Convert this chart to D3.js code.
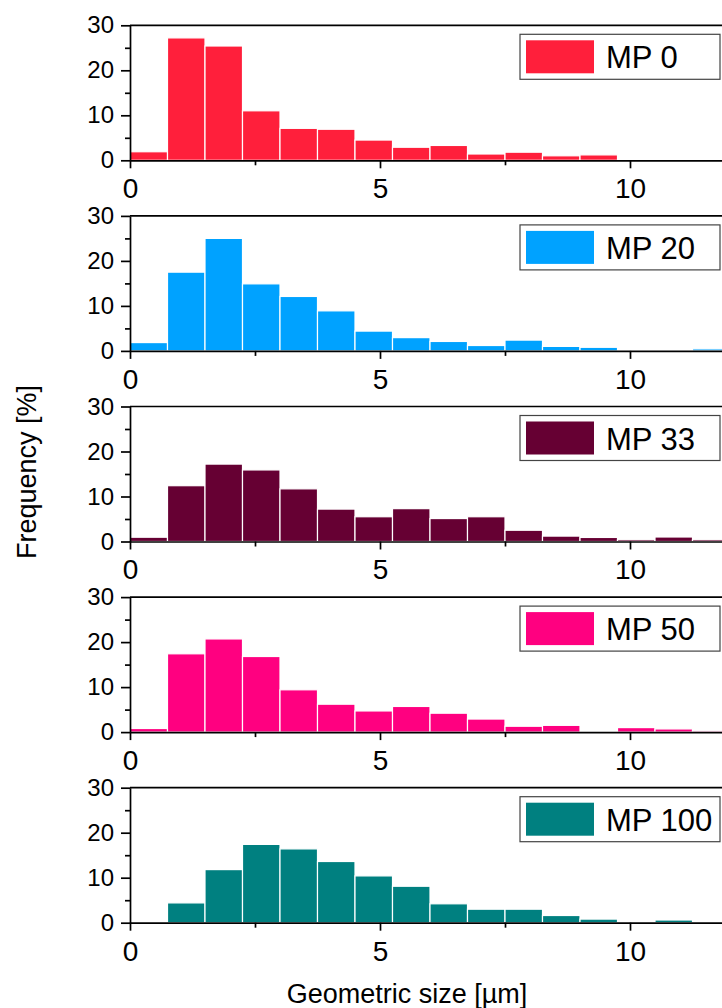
<!DOCTYPE html>
<html lang="en">
<head>
<meta charset="utf-8">
<title>Geometric size histograms</title>
<script src="https://d3js.org/d3.v7.min.js"></script>
<style>
  body { margin: 0; background: #fff; }
  svg { display: block; font-family: "Liberation Sans", Arial, sans-serif; }
</style>
</head>
<body>
<script>
// bin edges in µm (bin width 0.75)
var binEdges = [0, 0.75, 1.5, 2.25, 3, 3.75, 4.5, 5.25, 6, 6.75, 7.5, 8.25, 9, 9.75, 10.5, 11.25, 12];

var seriesNames = ["MP 0", "MP 20", "MP 33", "MP 50", "MP 100"];
var seriesColors = ["#ff1f3b", "#00a2ff", "#660033", "#ff0080", "#008080"];

// frequency [%] per bin
var mp0   = [1.9, 27.2, 25.4, 11.0, 7.1, 6.9, 4.5, 2.9, 3.3, 1.4, 1.8, 1.0, 1.2, 0, 0, 0];
var mp20  = [1.85, 17.5, 25.0, 14.9, 12.1, 8.9, 4.4, 2.95, 2.1, 1.2, 2.4, 1.0, 0.8, 0, 0, 0.45];
var mp33  = [0.95, 12.4, 17.2, 15.9, 11.7, 7.2, 5.5, 7.3, 5.1, 5.5, 2.5, 1.2, 0.9, 0.4, 1.0, 0.4];
var mp50  = [0.8, 17.4, 20.7, 16.8, 9.4, 6.2, 4.7, 5.7, 4.2, 2.9, 1.3, 1.5, 0, 1.0, 0.7, 0.3];
var mp100 = [0, 4.4, 11.8, 17.4, 16.4, 13.6, 10.4, 8.1, 4.2, 3.0, 3.0, 1.6, 0.8, 0, 0.6, 0];
var seriesValues = [mp0, mp20, mp33, mp50, mp100];

var xMajor = [0, 5, 10];
var xMinor = [2.5, 7.5];
var yMajor = [0, 10, 20, 30];
var yMinor = [5, 15, 25];

var W = 722, H = 1008;
var left = 130;
var panelTop0 = 25.3, panelStep = 190.6, panelH = 135;

var svg = d3.select("body").append("svg")
    .attr("width", W)
    .attr("height", H);

var x = d3.scaleLinear().domain([0, 12]).range([left, left + 12 * 50]);

seriesValues.forEach(function(vals, i) {
    var top = panelTop0 + i * panelStep;
    var y = d3.scaleLinear().domain([0, 30]).range([top + panelH, top]);

    var g = svg.append("g");

    //bars
    g.selectAll("rect.bar")
        .data(vals)
        .enter()
        .append("rect")
        .attr("class", "bar")
        .attr("x", function(d, k) { return x(binEdges[k]); })
        .attr("width", function(d, k) { return x(binEdges[k + 1]) - x(binEdges[k]); })
        .attr("y", function(d) { return y(d); })
        .attr("height", function(d) { return y(0) - y(d); })
        .attr("fill", seriesColors[i])
        .attr("stroke", function(d) { return d > 0 ? "#fff" : "none"; })
        .attr("stroke-width", 1.2);

    //top frame line
    g.append("line")
        .attr("x1", left).attr("x2", W)
        .attr("y1", y(30)).attr("y2", y(30))
        .attr("stroke", "#000").attr("stroke-width", 1.7);

    //y axis, major + minor
    var yAx = g.append("g")
        .attr("transform", "translate(" + left + ",0)")
        .call(d3.axisLeft(y).tickValues(yMajor).tickSize(9).tickSizeOuter(0).tickPadding(7));
    g.append("g")
        .attr("transform", "translate(" + left + ",0)")
        .call(d3.axisLeft(y).tickValues(yMinor).tickSize(5).tickSizeOuter(0).tickFormat(""))
        .select(".domain").remove();
    yAx.selectAll("text").attr("font-size", 24).attr("fill", "#000")
        .style("font-family", "Liberation Sans, Arial, sans-serif");

    //x axis, major + minor
    var xAx = g.append("g")
        .attr("transform", "translate(0," + y(0) + ")")
        .call(d3.axisBottom(x).tickValues(xMajor).tickSize(8).tickSizeOuter(0).tickPadding(10));
    g.append("g")
        .attr("transform", "translate(0," + y(0) + ")")
        .call(d3.axisBottom(x).tickValues(xMinor).tickSize(5).tickSizeOuter(0).tickFormat(""))
        .select(".domain").remove();
    xAx.selectAll("text").attr("font-size", 28).attr("fill", "#000")
        .style("font-family", "Liberation Sans, Arial, sans-serif");

    g.selectAll(".domain, .tick line").attr("stroke", "#000").attr("stroke-width", 1.7);

    //legend
    var lg = g.append("g").attr("transform", "translate(520," + (top + 9) + ")");
    lg.append("rect")
        .attr("x", 0).attr("y", 0)
        .attr("width", 200).attr("height", 45)
        .attr("fill", "#fff")
        .attr("stroke", "#444").attr("stroke-width", 1.2);
    lg.append("rect")
        .attr("x", 6).attr("y", 6)
        .attr("width", 68).attr("height", 33)
        .attr("fill", seriesColors[i]);
    lg.append("text")
        .attr("x", 86).attr("y", 34)
        .attr("font-size", 31)
        .attr("fill", "#000")
        .text(seriesNames[i]);
});

//axis titles
svg.append("text")
    .attr("transform", "translate(36,472) rotate(-90)")
    .attr("text-anchor", "middle")
    .attr("font-size", 27)
    .text("Frequency [%]");

svg.append("text")
    .attr("x", 407)
    .attr("y", 1003)
    .attr("text-anchor", "middle")
    .attr("font-size", 27)
    .text("Geometric size [µm]");
</script>
</body>
</html>
